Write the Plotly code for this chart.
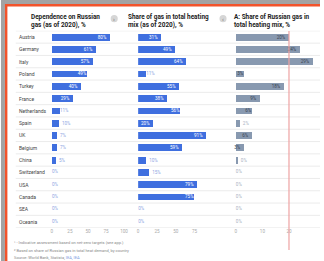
import plotly.graph_objects as go

W, H = 324, 261

countries = ["Austria", "Germany", "Italy", "Poland", "Turkey", "France", "Netherlands", "Spain",
             "UK", "Belgium", "China", "Switzerland", "USA", "Canada", "SEA", "Oceania"]
dependence = [80, 61, 57, 49, 40, 29, 11, 10, 7, 7, 5, 0, 0, 0, 0, 0]
gas_share = [31, 49, 64, 11, 55, 38, 56, 20, 91, 59, 10, 15, 79, 75, 0, 0]
russian_share = [20, 24, 29, 3, 18, 9, 6, 1.5, 6, 3, 0.5, 0, 0, 0, 0, 0]

titles = ["Dependence on Russian<br>gas (as of 2020), %",
          "Share of gas in total heating<br>mix (as of 2020), %",
          "A: Share of Russian gas in<br>total heating mix, %"]
ticks1 = [0, 25, 50, 75, 100]
ticks2 = [0, 25, 50, 75]
ticks3 = [0, 10, 20]
footnotes = ["¹ - Indicative assessment based on net-zero targets (see app.)",
             "² Based on share of Russian gas in total heat demand, by country",
             "Source: World Bank, Statista, <span style='color:#7d9be0'>IEA, IEA</span>"]

def px(x):
    return x / W

def py(y):
    return 1 - y / H

BLUE = "#3f6fdf"
SLATE = "#8899b0"
FONT = "Roboto"

# panel geometry (pixels)
doms = [(51.7, 125), (139.3, 215.7), (238.5, 319.5)]
ranges = [100, 100, 30]

fig = go.Figure()
specs = [(dependence, "x", BLUE, "white", "#8fa6e3"),
         (gas_share, "x2", BLUE, "white", "#8fa6e3"),
         (russian_share, "x3", SLATE, "#3a4350", "#a9b2bf")]
for k, (vals, xa, col, inc, outc) in enumerate(specs):
    scale = (doms[k][1] - doms[k][0]) / ranges[k]
    labels = [f"{round(v)}%" if v > 0 else "" for v in vals]
    minpx = [7.5 if len(l) <= 2 else 13 for l in labels]
    pos = ["inside" if v * scale >= m else "outside" for v, m in zip(vals, minpx)]
    fig.add_trace(go.Bar(
        x=vals, y=countries, orientation="h", xaxis=xa, yaxis="y",
        marker=dict(color=col, line=dict(width=0)), width=0.56,
        text=labels, textposition=pos,
        insidetextanchor="end", constraintext="none",
        insidetextfont=dict(size=4.6, color=inc, family=FONT),
        outsidetextfont=dict(size=4.6, color=outc, family=FONT),
        cliponaxis=False, hoverinfo="skip", showlegend=False))
    zeros = [c for c, v in zip(countries, vals) if v == 0]
    fig.add_trace(go.Scatter(
        x=[0] * len(zeros), y=zeros, mode="text", text=["0%"] * len(zeros),
        textposition="middle right", xaxis=xa, yaxis="y",
        textfont=dict(size=4.6, color=outc, family=FONT),
        cliponaxis=False, hoverinfo="skip", showlegend=False))

top, row = 30.85, 12.3
bottom = top + row * len(countries)
axcommon = dict(showgrid=False, zeroline=False, showline=False, ticks="",
                tickfont=dict(size=4.6, color="#aaaaaa", family=FONT),
                ticksuffix="%", anchor="y")
fig.update_layout(
    width=W, height=H, margin=dict(l=0, r=0, t=0, b=0),
    paper_bgcolor="white", plot_bgcolor="rgba(0,0,0,0)",
    bargap=0,
    xaxis=dict(domain=[px(doms[0][0]), px(doms[0][1])], range=[0, ranges[0]], tickvals=ticks1, **axcommon),
    xaxis2=dict(domain=[px(doms[1][0]), px(doms[1][1])], range=[0, ranges[1]], tickvals=ticks2, **axcommon),
    xaxis3=dict(domain=[px(doms[2][0]), px(doms[2][1])], range=[0, ranges[2]], tickvals=ticks3, **axcommon),
    yaxis=dict(domain=[py(bottom), py(top)], range=[len(countries) - 0.5, -0.5],
               showticklabels=False, showgrid=False, zeroline=False, anchor="x"),
)

shapes = []
for i in range(len(countries) + 1):
    shapes.append(dict(type="line", xref="paper", yref="y", x0=px(15), x1=1,
                       y0=i - 0.5, y1=i - 0.5, line=dict(color="#e6e6e6", width=0.8), layer="below"))
shapes.append(dict(type="line", xref="x3", yref="paper", x0=20, x1=20, y0=py(250), y1=py(31),
                   line=dict(color="#eea3a3", width=1.2)))
for cx in (115, 225.5):
    shapes.append(dict(type="circle", xref="paper", yref="paper", x0=px(cx - 3.6), x1=px(cx + 3.6),
                       y0=py(22.3), y1=py(15.1), fillcolor="#d6d6d6", line=dict(width=0)))
shapes += [
    dict(type="rect", xref="paper", yref="paper", x0=0, x1=1, y0=py(4), y1=1, fillcolor="#a3a3a3", line=dict(width=0)),
    dict(type="rect", xref="paper", yref="paper", x0=0, x1=px(4), y0=0, y1=1, fillcolor="#a3a3a3", line=dict(width=0)),
    dict(type="rect", xref="paper", yref="paper", x0=px(4), x1=1, y0=py(6.5), y1=py(4), fillcolor="#f2532b", line=dict(width=0)),
    dict(type="rect", xref="paper", yref="paper", x0=px(4), x1=px(6.5), y0=0, y1=py(4), fillcolor="#f2532b", line=dict(width=0)),
]
fig.update_layout(shapes=shapes)

ann = []
for name in countries:
    ann.append(dict(text=name, xref="paper", yref="y", x=px(16), y=name, xanchor="left",
                    yanchor="middle", showarrow=False, font=dict(size=5, color="#444444", family=FONT)))
for t, x0 in zip(titles, (28, 127, 235)):
    ann.append(dict(text=f"<b>{t}</b>", xref="paper", yref="paper", x=px(x0), y=py(10.5), xanchor="left",
                    yanchor="top", align="left", showarrow=False,
                    font=dict(size=6.4, color="#222222", family=FONT)))
for cx, sym in ((115, "›"), (225.5, "‹")):
    ann.append(dict(text=sym, xref="paper", yref="paper", x=px(cx), y=py(18.7), xanchor="center",
                    yanchor="middle", showarrow=False, font=dict(size=6, color="#666666", family=FONT)))
for k, t in enumerate(footnotes):
    ann.append(dict(text=t, xref="paper", yref="paper", x=px(11.5), y=py(242.5 + 7.6 * k), xanchor="left",
                    yanchor="middle", showarrow=False, font=dict(size=4, color="#888888", family=FONT)))
fig.update_layout(annotations=ann)

fig.write_html("out.html", config={"displayModeBar": False},
               post_script="document.body.style.margin='0';document.body.style.padding='0';")
